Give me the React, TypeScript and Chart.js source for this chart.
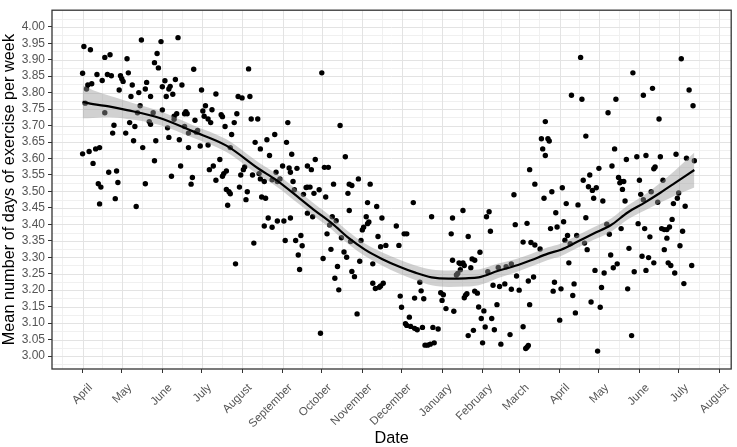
import React, { useEffect, useRef } from "react";
import { Chart, registerables } from "chart.js";

Chart.register(...registerables);

// x values are days counted from 1 April (first year)
const monthTickDays = [0, 30, 61, 91, 122, 153, 183, 214, 244, 275, 306, 334, 365, 395, 426, 456, 487];
const monthTickLabels = [
  "April", "May", "June", "July", "August", "September", "October", "November",
  "December", "January", "February", "March", "April", "May", "June", "July", "August",
];
const yTickValues = [3.0, 3.05, 3.1, 3.15, 3.2, 3.25, 3.3, 3.35, 3.4, 3.45, 3.5, 3.55, 3.6, 3.65, 3.7, 3.75, 3.8, 3.85, 3.9, 3.95, 4.0];
const yTickLabels = ["3.00", "3.05", "3.10", "3.15", "3.20", "3.25", "3.30", "3.35", "3.40", "3.45", "3.50", "3.55", "3.60", "3.65", "3.70", "3.75", "3.80", "3.85", "3.90", "3.95", "4.00"];

const pointDays = [
  1, 6, 45, 60, 73, 17, 21, 34, 57, 55, 58, 85, 127, 0, 11, 19, 22, 35, 29, 30,
  31, 15, 7, 4, 3, 38, 49, 63, 71, 76, 61, 67, 66, 48, 28, 43, 91, 102, 37, 52,
  64, 69, 119, 122, 128, 2, 44, 94, 99, 61, 17, 42, 79, 78, 80, 72, 70, 54, 92, 93,
  96, 98, 106, 107, 118, 129, 134, 51, 52, 36, 70, 86, 116, 157, 24, 40, 65, 78, 109, 88,
  87, 23, 33, 66, 81, 114, 147, 141, 39, 56, 74, 132, 156, 96, 90, 81, 46, 136, 113, 0,
  5, 10, 13, 160, 143, 105, 55, 8, 75, 100, 97, 124, 123, 153, 158, 159, 164, 172, 148, 110,
  108, 107, 20, 26, 68, 84, 121, 130, 135, 136, 102, 139, 145, 151, 149, 27, 48, 12, 14, 83,
  110, 112, 113, 120, 126, 125, 111, 137, 140, 161, 162, 169, 171, 13, 25, 41, 172, 142, 139, 145,
  149, 154, 159, 167, 163, 168, 155, 165, 166, 131, 117, 183, 197, 201, 178, 175, 185, 188, 211, 192,
  204, 220, 342, 346, 354, 351, 356, 352, 354, 357, 381, 458, 421, 436, 429, 464, 374, 382, 408, 467,
  402, 441, 385, 407, 454, 462, 468, 442, 431, 424, 416, 395, 405, 438, 437, 388, 383, 410, 412, 414,
  411, 426, 444, 359, 353, 367, 387, 390, 393, 391, 398, 413, 415, 427, 429, 435, 440, 456, 455, 452,
  461, 370, 379, 362, 368, 363, 358, 385, 371, 378, 369, 373, 384, 386, 401, 403, 412, 425, 430, 434,
  443, 445, 447, 449, 451, 447, 445, 459, 457, 343, 346, 350, 418, 404, 409, 406, 399, 392, 428, 433,
  437, 431, 422, 448, 450, 453, 466, 460, 372, 345, 341, 361, 360, 366, 376, 375, 377, 397, 389, 396,
  417, 365, 342, 420, 341, 394, 172, 174, 181, 177, 186, 206, 203, 218, 225, 204, 176, 191, 194, 189,
  187, 217, 219, 218, 215, 214, 229, 240, 226, 228, 232, 222, 213, 205, 198, 246, 248, 242, 253, 267,
  282, 283, 291, 295, 309, 311, 312, 330, 331, 340, 337, 190, 184, 195, 200, 202, 193, 196, 206, 208,
  212, 222, 224, 228, 230, 227, 210, 182, 243, 244, 254, 261, 259, 258, 250, 247, 248, 251, 254, 256,
  260, 268, 272, 262, 264, 266, 269, 274, 276, 275, 278, 284, 283, 288, 289, 291, 292, 289, 287, 286,
  298, 300, 304, 297, 292, 293, 294, 300, 302, 303, 307, 305, 308, 313, 299, 295, 306, 315, 317, 320,
  314, 319, 323, 328, 334, 310, 318, 324, 328, 332, 337, 327, 339, 340,
];
const pointMeans = [
  3.94, 3.93, 3.96, 3.955, 3.967, 3.907, 3.915, 3.903, 3.919, 3.891, 3.875, 3.871, 3.872, 3.859, 3.855, 3.855, 3.851, 3.86, 3.851, 3.842,
  3.834, 3.837, 3.827, 3.823, 3.811, 3.823, 3.831, 3.836, 3.84, 3.823, 3.818, 3.819, 3.811, 3.811, 3.808, 3.8, 3.808, 3.796, 3.788, 3.788,
  3.788, 3.795, 3.788, 3.784, 3.788, 3.768, 3.76, 3.76, 3.748, 3.747, 3.739, 3.739, 3.742, 3.736, 3.736, 3.736, 3.728, 3.739, 3.744, 3.728,
  3.72, 3.709, 3.733, 3.727, 3.736, 3.72, 3.72, 3.712, 3.704, 3.709, 3.719, 3.716, 3.709, 3.709, 3.701, 3.697, 3.693, 3.697, 3.697, 3.685,
  3.68, 3.677, 3.677, 3.664, 3.677, 3.673, 3.673, 3.657, 3.654, 3.654, 3.657, 3.649, 3.649, 3.641, 3.638, 3.633, 3.633, 3.629, 3.633, 3.614,
  3.621, 3.629, 3.633, 3.613, 3.609, 3.597, 3.593, 3.585, 3.577, 3.577, 3.566, 3.574, 3.566, 3.577, 3.571, 3.558, 3.57, 3.577, 3.558, 3.562,
  3.554, 3.546, 3.558, 3.562, 3.546, 3.542, 3.55, 3.55, 3.554, 3.538, 3.534, 3.53, 3.535, 3.538, 3.53, 3.527, 3.523, 3.523, 3.513, 3.522,
  3.506, 3.499, 3.493, 3.513, 3.499, 3.475, 3.458, 3.483, 3.479, 3.53, 3.505, 3.491, 3.512, 3.462, 3.478, 3.454, 3.434, 3.419, 3.395, 3.391,
  3.41, 3.41, 3.419, 3.366, 3.351, 3.335, 3.351, 3.307, 3.263, 3.343, 3.28, 3.86, 3.7, 3.605, 3.597, 3.566, 3.573, 3.573, 3.538, 3.522,
  3.522, 3.522, 3.566, 3.522, 3.712, 3.66, 3.66, 3.629, 3.609, 3.653, 3.907, 3.903, 3.86, 3.813, 3.792, 3.808, 3.792, 3.78, 3.78, 3.76,
  3.739, 3.72, 3.668, 3.629, 3.613, 3.601, 3.593, 3.605, 3.609, 3.605, 3.597, 3.57, 3.577, 3.574, 3.569, 3.55, 3.534, 3.542, 3.53, 3.53,
  3.526, 3.534, 3.534, 3.499, 3.479, 3.511, 3.514, 3.503, 3.511, 3.479, 3.471, 3.506, 3.471, 3.491, 3.475, 3.499, 3.467, 3.495, 3.479, 3.463,
  3.455, 3.463, 3.459, 3.435, 3.408, 3.392, 3.387, 3.42, 3.366, 3.366, 3.352, 3.341, 3.343, 3.323, 3.4, 3.37, 3.387, 3.402, 3.387, 3.362,
  3.387, 3.384, 3.384, 3.392, 3.415, 3.358, 3.323, 3.379, 3.335, 3.345, 3.337, 3.325, 3.327, 3.307, 3.28, 3.268, 3.252, 3.26, 3.303, 3.299,
  3.283, 3.26, 3.256, 3.283, 3.275, 3.252, 3.275, 3.22, 3.283, 3.24, 3.228, 3.224, 3.197, 3.204, 3.219, 3.184, 3.131, 3.208, 3.164, 3.148,
  3.204, 3.109, 3.156, 3.062, 3.032, 3.015, 3.513, 3.513, 3.505, 3.494, 3.483, 3.518, 3.494, 3.466, 3.454, 3.442, 3.423, 3.423, 3.411, 3.398,
  3.371, 3.423, 3.407, 3.402, 3.391, 3.383, 3.419, 3.395, 3.363, 3.332, 3.336, 3.28, 3.351, 3.348, 3.359, 3.371, 3.371, 3.336, 3.466, 3.423,
  3.371, 3.419, 3.442, 3.363, 3.423, 3.438, 3.379, 3.49, 3.399, 3.403, 3.346, 3.324, 3.296, 3.272, 3.316, 3.3, 3.236, 3.201, 3.257, 3.241,
  3.288, 3.221, 3.205, 3.213, 3.221, 3.209, 3.128, 3.069, 3.182, 3.148, 3.176, 3.174, 3.198, 3.224, 3.118, 3.098, 3.093, 3.09, 3.084, 3.08,
  3.087, 3.087, 3.082, 3.033, 3.033, 3.036, 3.04, 3.192, 3.186, 3.169, 3.144, 3.136, 3.291, 3.283, 3.28, 3.283, 3.275, 3.262, 3.251, 3.246,
  3.295, 3.291, 3.315, 3.268, 3.177, 3.185, 3.189, 3.197, 3.191, 3.149, 3.137, 3.114, 3.088, 3.114, 3.078, 3.062, 3.04, 3.08, 3.156, 3.036,
  3.215, 3.211, 3.219, 3.203, 3.2, 3.256, 3.269, 3.271, 3.28, 3.243, 3.089, 3.065, 3.023, 3.027,
];

const smoothDays = [0, 8, 20, 34, 59, 84, 110, 135, 148, 166, 178, 191, 204, 216, 229, 242, 254, 267, 280, 293, 303, 318, 331, 343, 356, 366, 378, 391, 404, 417, 430, 442, 453, 468];
const smoothMean = [3.772, 3.765, 3.758, 3.747, 3.723, 3.683, 3.639, 3.568, 3.535, 3.479, 3.441, 3.402, 3.357, 3.323, 3.295, 3.272, 3.254, 3.239, 3.235, 3.236, 3.239, 3.259, 3.274, 3.291, 3.311, 3.323, 3.346, 3.372, 3.397, 3.436, 3.466, 3.496, 3.525, 3.565];
const smoothLower = [3.722, 3.723, 3.725, 3.72, 3.702, 3.664, 3.62, 3.549, 3.516, 3.46, 3.422, 3.383, 3.338, 3.304, 3.275, 3.251, 3.232, 3.215, 3.21, 3.211, 3.215, 3.237, 3.254, 3.272, 3.292, 3.304, 3.327, 3.353, 3.377, 3.415, 3.442, 3.466, 3.487, 3.512];
const smoothUpper = [3.822, 3.807, 3.791, 3.774, 3.744, 3.702, 3.658, 3.587, 3.554, 3.498, 3.46, 3.421, 3.376, 3.342, 3.315, 3.293, 3.276, 3.263, 3.26, 3.261, 3.263, 3.281, 3.294, 3.31, 3.33, 3.342, 3.365, 3.391, 3.417, 3.457, 3.49, 3.526, 3.563, 3.618];

const X_MIN = -23.4;
const X_MAX = 496.2;
const Y_MIN = 2.9606;
const Y_MAX = 4.0503;

const FONT = "'Liberation Sans', Arial, Helvetica, sans-serif";

const panelPlugin = {
  id: "panelGrid",
  beforeDatasetsDraw(chart: any) {
    const { ctx, chartArea, scales } = chart;
    const { left, right, top, bottom } = chartArea;
    const xs = scales.x;
    const ys = scales.y;
    ctx.save();
    ctx.beginPath();
    ctx.rect(left, top, right - left, bottom - top);
    ctx.clip();
    ctx.fillStyle = "#ffffff";
    ctx.fillRect(left, top, right - left, bottom - top);
    ctx.lineWidth = 1;
    // minor grid
    ctx.strokeStyle = "#f0f0f0";
    const minorX: number[] = [monthTickDays[0] - 15.5];
    for (let i = 0; i < monthTickDays.length - 1; i++) minorX.push((monthTickDays[i] + monthTickDays[i + 1]) / 2);
    minorX.push(monthTickDays[monthTickDays.length - 1] + 15.5);
    ctx.beginPath();
    minorX.forEach((d) => {
      const px = Math.round(xs.getPixelForValue(d)) + 0.5;
      ctx.moveTo(px, top);
      ctx.lineTo(px, bottom);
    });
    const minorY: number[] = [yTickValues[0] - 0.025];
    for (let i = 0; i < yTickValues.length; i++) minorY.push(yTickValues[i] + 0.025);
    minorY.forEach((v) => {
      const py = Math.round(ys.getPixelForValue(v)) + 0.5;
      ctx.moveTo(left, py);
      ctx.lineTo(right, py);
    });
    ctx.stroke();
    // major grid
    ctx.strokeStyle = "#e3e3e3";
    ctx.beginPath();
    monthTickDays.forEach((d) => {
      const px = Math.round(xs.getPixelForValue(d)) + 0.5;
      ctx.moveTo(px, top);
      ctx.lineTo(px, bottom);
    });
    yTickValues.forEach((v) => {
      const py = Math.round(ys.getPixelForValue(v)) + 0.5;
      ctx.moveTo(left, py);
      ctx.lineTo(right, py);
    });
    ctx.stroke();
    ctx.restore();
  },
  afterDatasetsDraw(chart: any) {
    const { ctx, chartArea } = chart;
    const { left, right, top, bottom } = chartArea;
    ctx.save();
    ctx.strokeStyle = "#333333";
    ctx.lineWidth = 1.3;
    ctx.strokeRect(left, top, right - left, bottom - top);
    ctx.restore();
  },
};

export default function App() {
  const canvasRef = useRef<HTMLCanvasElement | null>(null);

  useEffect(() => {
    const canvas = canvasRef.current;
    if (!canvas) return;

    const points = pointDays.map((d, i) => ({ x: d, y: pointMeans[i] }));
    const line = smoothDays.map((d, i) => ({ x: d, y: smoothMean[i] }));
    const lower = smoothDays.map((d, i) => ({ x: d, y: smoothLower[i] }));
    const upper = smoothDays.map((d, i) => ({ x: d, y: smoothUpper[i] }));

    const chart = new Chart(canvas, {
      type: "scatter",
      data: {
        datasets: [
          {
            type: "line",
            label: "smooth",
            data: line,
            borderColor: "#000000",
            borderWidth: 2.2,
            pointRadius: 0,
            fill: false,
            cubicInterpolationMode: "monotone",
            order: 0,
          } as any,
          {
            type: "line",
            label: "lower",
            data: lower,
            borderWidth: 0,
            borderColor: "rgba(0,0,0,0)",
            pointRadius: 0,
            fill: false,
            cubicInterpolationMode: "monotone",
            order: 2,
          } as any,
          {
            type: "line",
            label: "upper",
            data: upper,
            borderWidth: 0,
            borderColor: "rgba(0,0,0,0)",
            backgroundColor: "rgba(153,153,153,0.45)",
            pointRadius: 0,
            fill: "-1",
            cubicInterpolationMode: "monotone",
            order: 1,
          } as any,
          {
            type: "scatter",
            label: "daily mean",
            data: points,
            backgroundColor: "#000000",
            borderWidth: 0,
            pointRadius: 2.7,
            order: 3,
          } as any,
        ],
      },
      options: {
        animation: false,
        responsive: true,
        maintainAspectRatio: false,
        layout: { padding: { top: 1, right: 3, left: 0, bottom: 0 } },
        plugins: {
          legend: { display: false },
          tooltip: { enabled: false },
        },
        scales: {
          x: {
            type: "linear",
            min: X_MIN,
            max: X_MAX,
            afterBuildTicks: (s: any) => {
              s.ticks = monthTickDays.map((v) => ({ value: v }));
            },
            afterFit: (s: any) => {
              s.height = 78;
            },
            ticks: {
              autoSkip: false,
              minRotation: 45,
              maxRotation: 45,
              padding: 8,
              labelOffset: 8,
              color: "#555555",
              font: { family: FONT, size: 11.5 },
              callback: (_v: any, i: number) => monthTickLabels[i],
            },
            grid: {
              display: true,
              drawOnChartArea: false,
              drawTicks: true,
              tickLength: 4,
              tickColor: "#333333",
              tickWidth: 1,
            },
            border: { display: false },
            title: {
              display: true,
              text: "Date",
              color: "#000000",
              font: { family: FONT, size: 16.3, lineHeight: 1 },
              padding: { top: 0, bottom: 0 },
            },
          },
          y: {
            type: "linear",
            min: Y_MIN,
            max: Y_MAX,
            afterBuildTicks: (s: any) => {
              s.ticks = yTickValues.map((v) => ({ value: v }));
            },
            afterFit: (s: any) => {
              s.width = 52;
            },
            ticks: {
              autoSkip: false,
              padding: 3,
              color: "#555555",
              font: { family: FONT, size: 12 },
              callback: (_v: any, i: number) => yTickLabels[i],
            },
            grid: {
              display: true,
              drawOnChartArea: false,
              drawTicks: true,
              tickLength: 4,
              tickColor: "#333333",
              tickWidth: 1,
            },
            border: { display: false },
            title: {
              display: true,
              text: "Mean number of days of exercise per week",
              color: "#000000",
              font: { family: FONT, size: 16.3, lineHeight: 1 },
              padding: { top: 1, bottom: 0 },
            },
          },
        },
      },
      plugins: [panelPlugin],
    });

    return () => {
      chart.destroy();
    };
  }, []);

  return (
    <div style={{ position: "absolute", left: 0, top: 0, width: 737, height: 447, background: "#ffffff" }}>
      <canvas ref={canvasRef} />
    </div>
  );
}
